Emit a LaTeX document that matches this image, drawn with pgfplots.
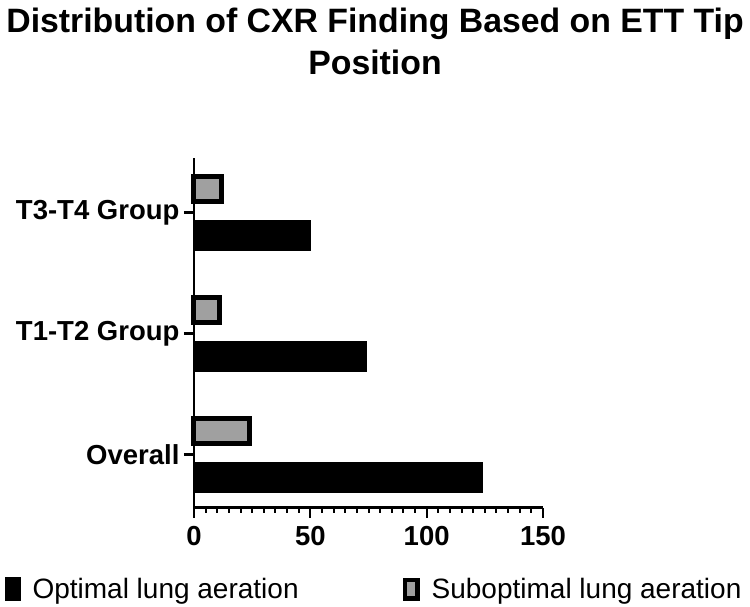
\documentclass[border=0pt]{standalone}
\usepackage{fontspec}
\setmainfont{Liberation Sans}
\usepackage{pgfplots}
\pgfplotsset{compat=1.18}
\definecolor{subgray}{RGB}{160,160,160}
\begin{document}
\begin{tikzpicture}
\path[use as bounding box] (0pt,0pt) rectangle (750pt,607pt);
\node[anchor=base,inner sep=0pt,font=\bfseries\fontsize{33.8}{36}\selectfont] at (375pt,574pt) {Distribution of CXR Finding Based on ETT Tip};
\node[anchor=base,inner sep=0pt,font=\bfseries\fontsize{33.8}{36}\selectfont] at (375pt,532pt) {Position};
\begin{axis}[
  at={(194pt,99.3pt)}, anchor=south west,
  scale only axis, width=349pt, height=349.7pt,
  xmin=0, xmax=150, ymin=-0.44, ymax=2.45,
  axis x line*=bottom, axis y line*=left,
  axis line style={line width=2.5pt,-},
  xtick={0,50,100,150}, minor x tick num=9,
  ytick={0,1,2}, yticklabels={Overall, T1-T2 Group, T3-T4 Group},
  tick align=outside,
  major tick length=10pt, minor tick length=5pt,
  every tick/.style={black, line width=2.2pt},
  every minor tick/.style={black, line width=2pt},
  /pgf/number format/assume math mode=true,
  ticklabel style={font=\bfseries\fontsize{27.5}{30}\selectfont},
  xticklabel style={yshift=-5pt},
  yticklabel style={xshift=-1pt},
  legend style={draw=none, fill=none, inner sep=0pt, outer sep=0pt,
    at={(-0.5415,-0.2325)}, anchor=west,
    font=\fontsize{28}{30}\selectfont,
    /tikz/every even column/.append style={column sep=104pt},
    /tikz/every odd column/.append style={column sep=12pt},
    nodes={inner sep=0pt}},
  legend columns=2,
  clip=false,
]
\addplot[xbar, bar width=0.248, bar shift=-0.187, fill=black, draw=black, line width=0.5pt,
  legend image code/.code={\fill[black] (0pt,-11.5pt) rectangle (15pt,11.5pt);}]
  coordinates {(124,0) (74,1) (50,2)};
\addlegendentry{Optimal lung aeration}
\addplot[xbar, bar width=0.207, bar shift=0.19, fill=subgray, draw=black, line width=5pt,
  legend image code/.code={\draw[fill=subgray, draw=black, line width=4.5pt] (2.25pt,-9.25pt) rectangle (14.75pt,9.25pt);}]
  coordinates {(24,0) (11,1) (12,2)};
\addlegendentry{Suboptimal lung aeration}
\end{axis}
\end{tikzpicture}
\end{document}
